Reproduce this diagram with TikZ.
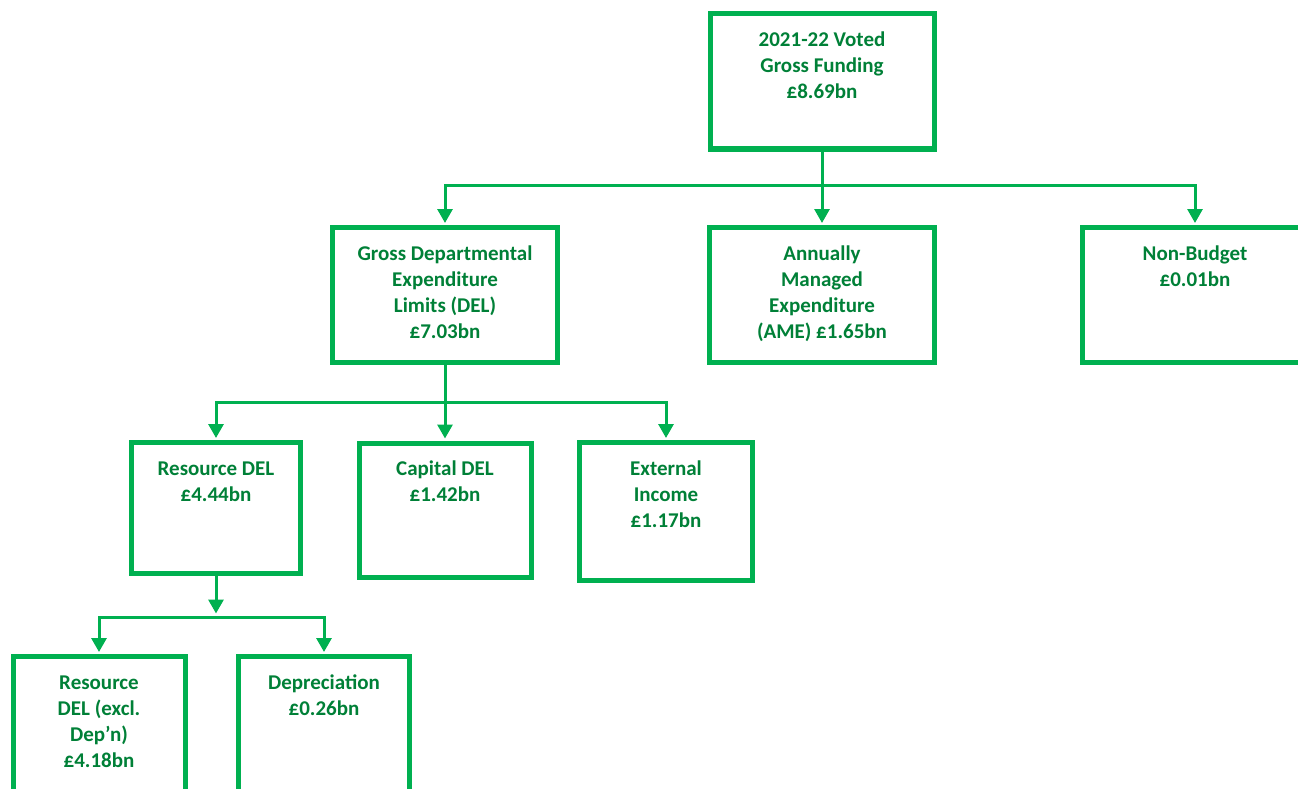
\documentclass[tikz,border=0pt]{standalone}
\usepackage{fontspec}
\setmainfont{Carlito}
\usetikzlibrary{arrows.meta}
\definecolor{boxgreen}{RGB}{0,176,80}
\definecolor{txtgreen}{RGB}{0,128,55}
\newcommand{\boxtext}[3]{\parbox[c][#2pt][t]{#1pt}{\centering\vspace*{14.6pt}\strut #3\par}}
\tikzset{
  fbox/.style={draw=boxgreen, line width=5pt, inner sep=0pt, outer sep=0pt, rectangle,
    text=txtgreen, font=\fontsize{21}{26}\selectfont\bfseries},
  conn/.style={draw=boxgreen, line width=3pt},
  arr/.style={conn, -{Triangle[width=15pt,length=14pt]}, shorten >=4.5pt},
}
\begin{document}
\begin{tikzpicture}[x=1pt,y=-1pt]
\useasboundingbox (0,0) rectangle (1298,789);
\clip (0,0) rectangle (1298,789);
% level 0
\node[fbox] (top) at (822,81.25) {\boxtext{224}{135.5}{2021-22 Voted\\Gross Funding\\£8.69bn}};
% level 1
\node[fbox] (del) at (445,295) {\boxtext{225}{135}{Gross Departmental\\Expenditure\\Limits (DEL)\\£7.03bn}};
\node[fbox] (ame) at (822,295) {\boxtext{225}{135}{Annually\\Managed\\Expenditure\\(AME) £1.65bn}};
\node[fbox] (nb) at (1195,295) {\boxtext{225}{135}{Non-Budget\\£0.01bn}};
% level 2
\node[fbox] (rdel) at (216,508) {\boxtext{169}{131}{Resource DEL\\£4.44bn}};
\node[fbox] (cap) at (445,510) {\boxtext{172}{134}{Capital DEL\\£1.42bn}};
\node[fbox] (ext) at (666,511.5) {\boxtext{173}{138}{External\\Income\\£1.17bn}};
% level 3
\node[fbox] (rx) at (99,724.5) {\boxtext{172}{136}{Resource\\DEL (excl.\\Dep’n)\\£4.18bn}};
\node[fbox] (dep) at (324,724.5) {\boxtext{171}{136}{Depreciation\\£0.26bn}};
% buses
\coordinate (bus1) at (top.south |- 0,185);
\coordinate (bus2) at (del.south |- 0,402);
\coordinate (bus3) at (rdel.south |- 0,617);
% connectors level 0 -> 1
\draw[arr] (top.south) -- (ame.north);
\draw[arr] (bus1) -| (del.north);
\draw[arr] (bus1) -| (nb.north);
% level 1 -> 2
\draw[arr] (del.south) -- (cap.north);
\draw[arr] (bus2) -| (rdel.north);
\draw[arr] (bus2) -| (ext.north);
% level 2 -> 3
\draw[arr, shorten >=3.5pt] (rdel.south) -- (bus3);
\draw[arr] (bus3) -| (rx.north);
\draw[arr] (bus3) -| (dep.north);
\end{tikzpicture}
\end{document}
